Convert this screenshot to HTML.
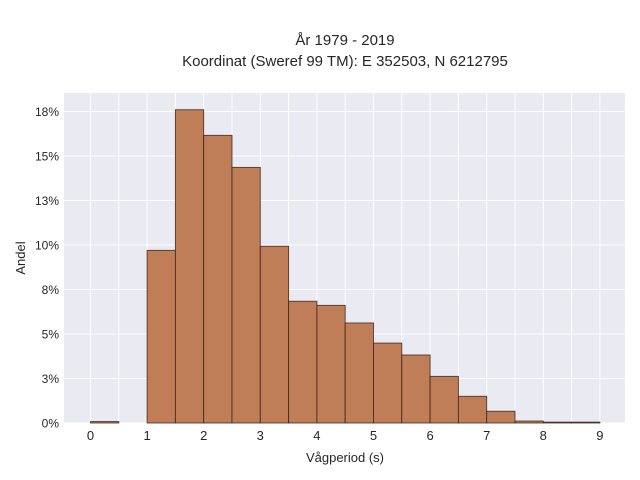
<!DOCTYPE html>
<html><head><meta charset="utf-8"><style>
body{margin:0;background:#fff;}
svg{display:block;font-family:"Liberation Sans",sans-serif;}
</style></head><body>
<svg id="chart" width="640" height="480">
<text x="345" y="45" text-anchor="middle" font-size="15" fill="#262626">År 1979 - 2019</text>
<text x="345" y="66" text-anchor="middle" font-size="15" fill="#262626">Koordinat (Sweref 99 TM): E 352503, N 6212795</text>
<rect x="64" y="93" width="561" height="330" fill="#eaeaf2"/>
<g id="grid"></g>
<g id="bars"></g>
<g id="ticks"></g>
<text x="345" y="462" text-anchor="middle" font-size="13" fill="#262626">Vågperiod (s)</text>
<text transform="translate(25,258) rotate(-90)" text-anchor="middle" font-size="13" fill="#262626">Andel</text>
</svg>
<script>
const binStarts=[0,0.5,1,1.5,2,2.5,3,3.5,4,4.5,5,5.5,6,6.5,7,7.5,8,8.5];
const shares=[0.08,0,9.7,17.6,16.16,14.36,9.93,6.84,6.61,5.62,4.49,3.82,2.62,1.5,0.66,0.11,0.05,0.05];
const xTicks=[0,1,2,3,4,5,6,7,8,9];
const yTicks=[0,2.5,5,7.5,10,12.5,15,17.5];
const binWidth=0.5;
const ns="http://www.w3.org/2000/svg";
const X=v=>90.5+v*56.6;
const Y=v=>423-v*17.8;
const grid=document.getElementById('grid'),bars=document.getElementById('bars'),ticks=document.getElementById('ticks');
function mk(tag,attrs,parent){const e=document.createElementNS(ns,tag);for(const k in attrs)e.setAttribute(k,attrs[k]);parent.appendChild(e);return e;}
for(let v=-0.5;v<=9.5;v+=0.5){const x=X(v);if(x<64||x>625)continue;
 const l=mk('line',{x1:x,x2:x,y1:93,y2:423,stroke:'#fff','stroke-width':1},grid);
 
 }
yTicks.forEach(v=>{const y=Y(v);
 const l=mk('line',{x1:64,x2:625,y1:y,y2:y,stroke:'#fff','stroke-width':1},grid);
 
 
 const t=mk('text',{x:59,y:y+4.5,'text-anchor':'end','font-size':12,fill:'#262626'},ticks);
 t.textContent=Math.round(v)+'%';
 
 });
xTicks.forEach(v=>{
 const t=mk('text',{x:X(v),y:440,'text-anchor':'middle','font-size':13,fill:'#262626'},ticks);
 t.textContent=v;
 
 });
binStarts.forEach((s,i)=>{const v=shares[i];if(v<=0)return;
 const x0=X(s),x1=X(s+binWidth),y=Y(v);
 const r=mk('rect',{x:x0,y:y,width:x1-x0,height:423-y,fill:'#bf7d58','stroke':'#3a2418','stroke-width':0.9,'stroke-opacity':0.85},bars);
 
 });
</script>
</body></html>
